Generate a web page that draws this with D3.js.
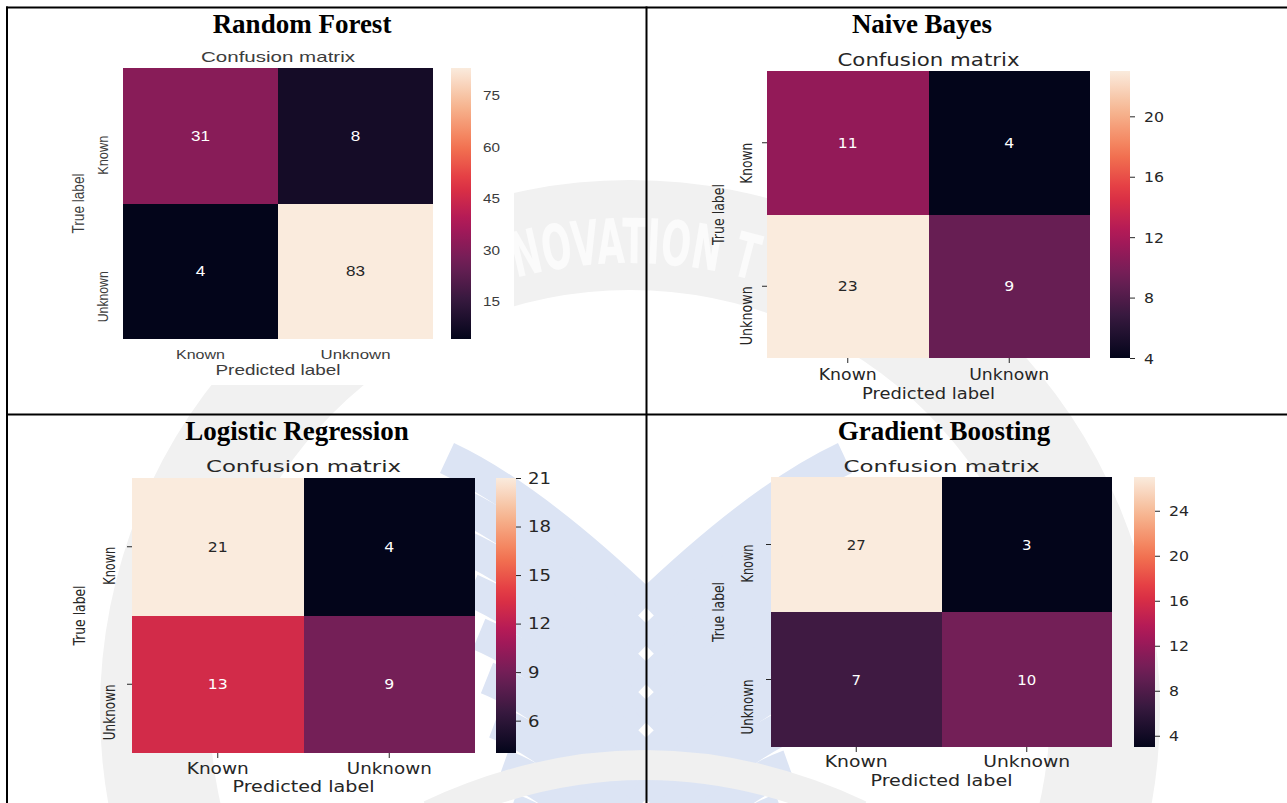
<!DOCTYPE html>
<meta charset="utf-8">
<style>
  body { margin: 0; background: #fff; overflow: hidden; }
  svg { display: block; }
  .title {
    font-family: "Liberation Serif", "Times New Roman", serif;
    font-weight: bold;
    font-size: 27px;
    fill: #000;
    text-anchor: middle;
  }
  .domain { display: none; }
</style>
<script src="https://d3js.org/d3.v7.min.js"></script>
<body>
<script>

  var W = 1287, H = 803;

  // data
  var modelNames = ["Random Forest", "Naive Bayes", "Logistic Regression", "Gradient Boosting"];
  var classLabels = ["Known", "Unknown"];
  var plotTitle = "Confusion matrix";
  var xTitle = "Predicted label";
  var yTitle = "True label";

  var rfCounts = [[31, 8], [4, 83]];
  var nbCounts = [[11, 4], [23, 9]];
  var lrCounts = [[21, 4], [13, 9]];
  var gbCounts = [[27, 3], [7, 10]];

  var rfTicks = [15, 30, 45, 60, 75];
  var nbTicks = [4, 8, 12, 16, 20];
  var lrTicks = [6, 9, 12, 15, 18, 21];
  var gbTicks = [4, 8, 12, 16, 20, 24];

  // seaborn "rocket"
  var rocket = d3.piecewise(d3.interpolateRgb, ["#03051a", "#35193e", "#701f57", "#ad1759", "#e13342", "#f37651", "#f6b48f", "#faebdd"]);

  var svg = d3.select("body").append("svg")
              .attr("width", W)
              .attr("height", H);

  // ---- faint logo watermark behind the table ----
  var wm = svg.append("g");
  var wx = 630, wy = 710;

  // grey ring
  wm.append("path")
    .attr("transform", "translate(" + wx + "," + wy + ")")
    .attr("d", d3.arc()({innerRadius: 420, outerRadius: 530, startAngle: 0, endAngle: 2 * Math.PI}))
    .attr("fill", "#f1f1f1");

  // blue "book" feathers, left half then mirrored
  var wing = wm.append("g").attr("id", "wing");
  for (var k = 0; k < 9; k++) {
    var sx = 447 + k * 8, sy = 458 + k * 44;
    var ex = 646, ey = sy + 0.7 * (ex - sx) + 10;
    var cxp = (sx + ex) / 2 - 15, cyp = (sy + ey) / 2 - 35;
    wing.append("path")
        .attr("d", "M" + sx + "," + sy + " Q" + cxp + "," + cyp + " " + ex + "," + ey)
        .attr("fill", "none")
        .attr("stroke", "#dce4f4")
        .attr("stroke-width", 33);
  }
  wm.append("use").attr("href", "#wing").attr("transform", "translate(1292,0) scale(-1,1)");

  // lettering along the top of the ring (only the part that shows)
  var tr = 447;
  wm.append("path")
    .attr("id", "ringPath")
    .attr("fill", "none")
    .attr("d", "M" + wx + "," + (wy + tr) + " A" + tr + "," + tr + " 0 1 1 " + wx + "," + (wy - tr) +
               " A" + tr + "," + tr + " 0 1 1 " + wx + "," + (wy + tr));
  var ringText = "NOVATION T";
  var startAng = Math.asin((516 - wx) / tr);
  var charW = 24;
  wm.append("text")
    .attr("font-family", "'DejaVu Sans Condensed', 'DejaVu Sans', sans-serif")
    .attr("font-weight", "bold")
    .attr("font-size", 62)
    .attr("fill", "#fbfbfb")
    .append("textPath")
    .attr("href", "#ringPath")
    .attr("startOffset", tr * (Math.PI + startAng))
    .attr("textLength", ringText.length * charW)
    .attr("lengthAdjust", "spacingAndGlyphs")
    .text(ringText);

  wm.append("path")
    .attr("d", "M430,815 Q645,715 860,815")
    .attr("fill", "none")
    .attr("stroke", "#f0f0f0")
    .attr("stroke-width", 30);

  // the first screenshot has an opaque white background
  svg.append("rect")
     .attr("x", 9).attr("y", 9)
     .attr("width", 505).attr("height", 376)
     .attr("fill", "#fff");

  // ---- panels ----
  var panels = [
    { name: modelNames[0], counts: rfCounts, ticks: rfTicks, titleAt: [302, 33],
      box: [123, 68, 433, 339], cb: [451, 471], mark: 0, cbGap: 12,
      font: "'Liberation Sans', Arial, sans-serif", ink: "#3c3c3c",
      cmY: 57, cmFs: 14.5, cmW: 154,
      xLabY: 354, xFs: 13.5, xW: [49, 70],
      predY: 370, predFs: 15, predW: 125,
      yLabX: 103, yFs: 14, yW: [39, 51],
      trueX: 78, trueFs: 16, trueW: 60,
      cbFs: 12.5, cbDigit: 8.5, valFs: 14, valDigit: 9.5 },
    { name: modelNames[1], counts: nbCounts, ticks: nbTicks, titleAt: [922, 33],
      box: [767, 71, 1090, 358], cb: [1110, 1130], mark: 5, cbGap: 14,
      font: "'DejaVu Sans', sans-serif", ink: "#262626",
      cmY: 60, cmFs: 18, cmW: 182,
      xLabY: 374, xFs: 15.5, xW: [58, 80],
      predY: 393, predFs: 16, predW: 133,
      yLabX: 746, yFs: 15.5, yW: [41, 59],
      trueX: 718, trueFs: 16, trueW: 61,
      cbFs: 14.5, cbDigit: 10, valFs: 14.5, valDigit: 10 },
    { name: modelNames[2], counts: lrCounts, ticks: lrTicks, titleAt: [297, 440],
      box: [132, 478, 475, 753], cb: [496, 516], mark: 5, cbGap: 12,
      font: "'DejaVu Sans', sans-serif", ink: "#262626",
      cmY: 466, cmFs: 16, cmW: 195,
      xLabY: 769, xFs: 15, xW: [62, 85],
      predY: 786, predFs: 15.5, predW: 142,
      yLabX: 110, yFs: 15, yW: [38, 56],
      trueX: 79, trueFs: 15.5, trueW: 60,
      cbFs: 15, cbDigit: 11.5, valFs: 14.5, valDigit: 10 },
    { name: modelNames[3], counts: gbCounts, ticks: gbTicks, titleAt: [944, 440],
      box: [771, 477, 1112, 747], cb: [1134, 1155], mark: 5, cbGap: 14,
      font: "'DejaVu Sans', sans-serif", ink: "#262626",
      cmY: 466, cmFs: 16, cmW: 196,
      xLabY: 762, xFs: 15, xW: [63, 87],
      predY: 780, predFs: 15.5, predW: 142,
      yLabX: 748, yFs: 15, yW: [38, 55],
      trueX: 718, trueFs: 15.5, trueW: 60,
      cbFs: 14.5, cbDigit: 10, valFs: 14.5, valDigit: 9.5 }
  ];

  function fit(sel, len) {
    sel.attr("textLength", len).attr("lengthAdjust", "spacingAndGlyphs");
  }

  function lum(c) {
    var rgb = d3.rgb(c);
    var f = function (v) { v = v / 255; return v <= 0.03928 ? v / 12.92 : Math.pow((v + 0.055) / 1.055, 2.4); };
    return 0.2126 * f(rgb.r) + 0.7152 * f(rgb.g) + 0.0722 * f(rgb.b);
  }

  panels.forEach(function (p, pi) {
    var g = svg.append("g")
               .attr("font-family", p.font)
               .attr("fill", p.ink);

    var x = d3.scaleBand().domain(classLabels).range([p.box[0], p.box[2]]);
    var y = d3.scaleBand().domain(classLabels).range([p.box[1], p.box[3]]);
    var flat = p.counts.flat();
    var ext = d3.extent(flat);
    var color = d3.scaleSequential(rocket).domain(ext);

    g.append("text").attr("class", "title")
     .attr("x", p.titleAt[0]).attr("y", p.titleAt[1])
     .text(p.name);

    var cells = [];
    p.counts.forEach(function (row, i) {
      row.forEach(function (v, j) {
        cells.push({ truth: classLabels[i], pred: classLabels[j], v: v });
      });
    });

    g.selectAll("rect.cell").data(cells).join("rect")
     .attr("class", "cell")
     .attr("x", function (d) { return x(d.pred); })
     .attr("y", function (d) { return y(d.truth); })
     .attr("width", x.bandwidth())
     .attr("height", y.bandwidth())
     .attr("shape-rendering", "crispEdges")
     .attr("fill", function (d) { return color(d.v); });

    g.selectAll("text.val").data(cells).join("text")
     .attr("class", "val")
     .attr("x", function (d) { return x(d.pred) + x.bandwidth() / 2; })
     .attr("y", function (d) { return y(d.truth) + y.bandwidth() / 2; })
     .attr("dy", "0.36em")
     .attr("text-anchor", "middle")
     .attr("font-size", p.valFs)
     .attr("fill", function (d) { return lum(color(d.v)) > 0.408 ? "#262626" : "#ffffff"; })
     .text(function (d) { return d.v; })
     .each(function (d) { fit(d3.select(this), String(d.v).length * p.valDigit); });

    // x axis
    var xa = g.append("g")
              .attr("transform", "translate(0," + p.box[3] + ")")
              .call(d3.axisBottom(x).tickSize(p.mark));
    xa.selectAll("line").attr("stroke", p.ink);
    xa.selectAll("text")
      .attr("fill", p.ink)
      .attr("font-size", p.xFs)
      .attr("font-family", p.font)
      .attr("y", p.xLabY - p.box[3])
      .attr("dy", "0.36em")
      .each(function (d, i) { fit(d3.select(this), p.xW[i]); });

    // y axis, labels rotated
    var ya = g.append("g")
              .attr("transform", "translate(" + p.box[0] + ",0)")
              .call(d3.axisLeft(y).tickSize(p.mark));
    ya.selectAll("line").attr("stroke", p.ink);
    ya.selectAll("text")
      .attr("fill", p.ink)
      .attr("font-size", p.yFs)
      .attr("font-family", p.font)
      .attr("x", null)
      .attr("dy", "0.36em")
      .attr("text-anchor", "end")
      .attr("transform", "translate(" + (p.yLabX - p.box[0]) + ",0) rotate(-90)")
      .each(function (d, i) { fit(d3.select(this), p.yW[i]); });

    // plot title and axis titles
    g.append("text")
     .attr("x", (p.box[0] + p.box[2]) / 2).attr("y", p.cmY)
     .attr("dy", "0.36em").attr("text-anchor", "middle")
     .attr("font-size", p.cmFs)
     .text(plotTitle)
     .call(fit, p.cmW);

    g.append("text")
     .attr("x", (p.box[0] + p.box[2]) / 2).attr("y", p.predY)
     .attr("dy", "0.36em").attr("text-anchor", "middle")
     .attr("font-size", p.predFs)
     .text(xTitle)
     .call(fit, p.predW);

    g.append("text")
     .attr("transform", "translate(" + p.trueX + "," + (p.box[1] + p.box[3]) / 2 + ") rotate(-90)")
     .attr("dy", "0.36em").attr("text-anchor", "middle")
     .attr("font-size", p.trueFs)
     .text(yTitle)
     .call(fit, p.trueW);

    // colour bar
    var gid = "grad" + pi;
    var grad = svg.append("defs").append("linearGradient")
                  .attr("id", gid)
                  .attr("x1", 0).attr("y1", 1).attr("x2", 0).attr("y2", 0);
    d3.range(0, 1.0001, 0.05).forEach(function (t) {
      grad.append("stop").attr("offset", t).attr("stop-color", rocket(t));
    });
    g.append("rect")
     .attr("x", p.cb[0]).attr("y", p.box[1])
     .attr("width", p.cb[1] - p.cb[0])
     .attr("height", p.box[3] - p.box[1])
     .attr("fill", "url(#" + gid + ")");

    var cbScale = d3.scaleLinear().domain(ext).range([p.box[3], p.box[1]]);
    var ca = g.append("g")
              .attr("transform", "translate(" + p.cb[1] + ",0)")
              .call(d3.axisRight(cbScale).tickValues(p.ticks).tickSize(p.mark));
    ca.selectAll("line").attr("stroke", p.ink);
    ca.selectAll("text")
      .attr("fill", p.ink)
      .attr("font-size", p.cbFs)
      .attr("font-family", p.font)
      .attr("x", p.cbGap)
      .attr("dy", "0.36em")
      .each(function (d) { fit(d3.select(this), String(d).length * p.cbDigit); });
  });

  // ---- table rules ----
  var rules = svg.append("g").attr("stroke", "#000").attr("stroke-width", 2);
  rules.append("line").attr("x1", 6).attr("x2", W).attr("y1", 7.5).attr("y2", 7.5);
  rules.append("line").attr("x1", 7).attr("x2", 7).attr("y1", 6.5).attr("y2", H);
  rules.append("line").attr("x1", 646.5).attr("x2", 646.5).attr("y1", 6.5).attr("y2", H);
  rules.append("line").attr("x1", 6).attr("x2", W).attr("y1", 414.5).attr("y2", 414.5);

</script>
</body>
